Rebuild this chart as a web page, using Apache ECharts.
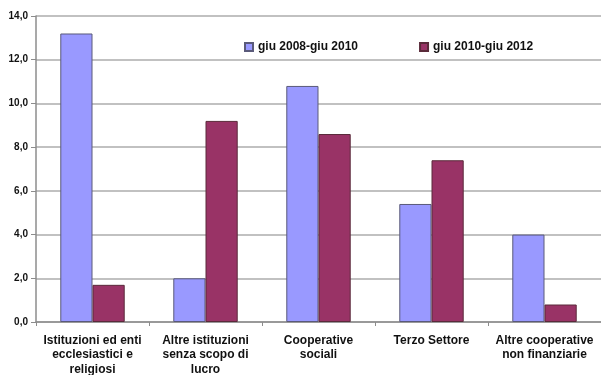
<!DOCTYPE html>
<html>
<head>
<meta charset="utf-8">
<script src="https://cdn.jsdelivr.net/npm/echarts@6/dist/echarts.min.js"></script>
<style>
  html, body { margin: 0; padding: 0; background: #fff; }
  #chart { width: 601px; height: 375px; }
</style>
</head>
<body>
<div id="chart"></div>
<script>
// Categories of non-profit and cooperative institutions
const categories = [
  'Istituzioni ed enti\necclesiastici e\nreligiosi',
  'Altre istituzioni\nsenza scopo di\nlucro',
  'Cooperative\nsociali',
  'Terzo Settore',
  'Altre cooperative\nnon finanziarie'
];
const seriesNames = ['giu 2008-giu 2010', 'giu 2010-giu 2012'];
const period1 = [13.2, 2.0, 10.8, 5.4, 4.0];
const period2 = [1.7, 9.2, 8.6, 7.4, 0.8];
const yTicks = { min: 0, max: 14, interval: 2 };

const font = '"Liberation Sans", Arial, sans-serif';
const chart = echarts.init(document.getElementById('chart'), null, { renderer: 'canvas' });

chart.setOption({
  animation: false,
  backgroundColor: '#ffffff',
  grid: { left: 36, right: 0, top: 16, bottom: 53, containLabel: false, outerBoundsMode: 'none' },
  legend: {
    left: 239,
    top: 36,
    itemWidth: 8,
    itemHeight: 8,
    itemGap: 61,
    icon: 'rect',
    textStyle: { fontFamily: font, fontWeight: 'bold', fontSize: 12, color: '#111' },
    data: seriesNames
  },
  xAxis: {
    type: 'category',
    data: categories,
    axisLine: { lineStyle: { color: '#8c8c8c', width: 1.5 } },
    axisTick: { show: true, length: 4, lineStyle: { color: '#8c8c8c' } },
    axisLabel: {
      interval: 0,
      margin: 11,
      lineHeight: 14.5,
      fontFamily: font,
      fontWeight: 'bold',
      fontSize: 12,
      color: '#111'
    }
  },
  yAxis: {
    type: 'value',
    min: yTicks.min,
    max: yTicks.max,
    interval: yTicks.interval,
    axisLine: { show: true, lineStyle: { color: '#8c8c8c', width: 1.5 } },
    axisTick: { show: true, inside: false, length: 5, lineStyle: { color: '#8c8c8c' } },
    splitLine: { lineStyle: { color: '#acacac', width: 1.5 } },
    axisLabel: {
      margin: 8,
      fontFamily: font,
      fontWeight: 'bold',
      fontSize: 10,
      color: '#111',
      formatter: v => v.toFixed(1).replace('.', ',')
    }
  },
  series: [
    {
      name: seriesNames[0],
      type: 'bar',
      data: period1,
      barGap: '0%',
      barCategoryGap: '43%',
      itemStyle: { color: '#9999ff', borderColor: '#5a5a7a', borderWidth: 1 }
    },
    {
      name: seriesNames[1],
      type: 'bar',
      data: period2,
      barGap: '0%',
      barCategoryGap: '43%',
      itemStyle: { color: '#993366', borderColor: '#5a2a3a', borderWidth: 1 }
    }
  ]
});
</script>
</body>
</html>
